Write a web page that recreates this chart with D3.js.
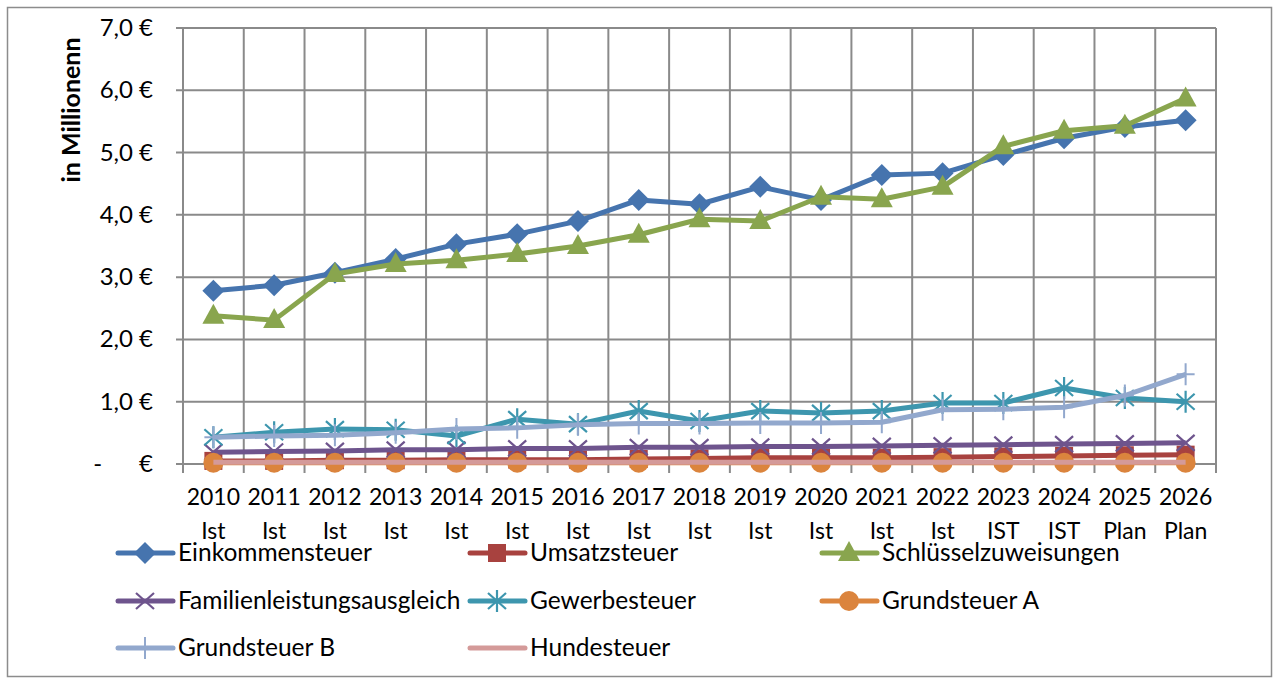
<!DOCTYPE html>
<html lang="de">
<head>
<meta charset="UTF-8">
<title>Steuereinnahmen</title>
<script src="https://d3js.org/d3.v7.min.js"></script>
<style>
    body { margin: 0; background: #fff; }
    text { font-family: Lato, "Open Sans", sans-serif; fill: #000; }
</style>
</head>
<body>
<script>
    // categories (two-line labels)
    const years = ["2010", "2011", "2012", "2013", "2014", "2015", "2016", "2017", "2018",
        "2019", "2020", "2021", "2022", "2023", "2024", "2025", "2026"]
    const status = ["Ist", "Ist", "Ist", "Ist", "Ist", "Ist", "Ist", "Ist", "Ist",
        "Ist", "Ist", "Ist", "Ist", "IST", "IST", "Plan", "Plan"]

    // values in Mio. €
    const einkommensteuer = [2.78, 2.87, 3.07, 3.29, 3.53, 3.69, 3.90, 4.24, 4.17, 4.45, 4.24, 4.64, 4.67, 4.96, 5.23, 5.41, 5.52]
    const umsatzsteuer = [0.05, 0.05, 0.06, 0.06, 0.07, 0.07, 0.07, 0.08, 0.09, 0.10, 0.10, 0.10, 0.11, 0.12, 0.13, 0.14, 0.15]
    const schluesselzuweisungen = [2.38, 2.31, 3.05, 3.21, 3.27, 3.37, 3.50, 3.68, 3.93, 3.90, 4.29, 4.25, 4.45, 5.10, 5.35, 5.43, 5.87]
    const familienleistungsausgleich = [0.19, 0.20, 0.21, 0.23, 0.23, 0.25, 0.25, 0.27, 0.27, 0.28, 0.28, 0.29, 0.30, 0.31, 0.32, 0.33, 0.34]
    const gewerbesteuer = [0.43, 0.51, 0.56, 0.55, 0.45, 0.72, 0.64, 0.85, 0.69, 0.85, 0.82, 0.85, 0.98, 0.98, 1.22, 1.06, 1.00]
    const grundsteuerA = [0.02, 0.02, 0.02, 0.02, 0.02, 0.02, 0.02, 0.02, 0.02, 0.02, 0.02, 0.02, 0.02, 0.02, 0.02, 0.02, 0.02]
    const grundsteuerB = [0.43, 0.45, 0.46, 0.50, 0.56, 0.58, 0.63, 0.65, 0.65, 0.66, 0.66, 0.67, 0.87, 0.88, 0.91, 1.10, 1.44]
    const hundesteuer = [0.03, 0.03, 0.03, 0.03, 0.03, 0.03, 0.03, 0.03, 0.03, 0.03, 0.03, 0.03, 0.03, 0.03, 0.03, 0.03, 0.03]

    const yTicks = [0, 1, 2, 3, 4, 5, 6, 7]

    const series = [
        {name: "Einkommensteuer", values: einkommensteuer, color: "#4674ae", marker: "diamond"},
        {name: "Umsatzsteuer", values: umsatzsteuer, color: "#a8423f", marker: "square"},
        {name: "Schlüsselzuweisungen", values: schluesselzuweisungen, color: "#89a54e", marker: "triangle"},
        {name: "Familienleistungsausgleich", values: familienleistungsausgleich, color: "#6e548d", marker: "x"},
        {name: "Gewerbesteuer", values: gewerbesteuer, color: "#3d96ae", marker: "star"},
        {name: "Grundsteuer A", values: grundsteuerA, color: "#db843d", marker: "circle"},
        {name: "Grundsteuer B", values: grundsteuerB, color: "#92a8cd", marker: "plus"},
        {name: "Hundesteuer", values: hundesteuer, color: "#d49a99", marker: "none"}
    ]

    const W = 1276, H = 679
    const plot = {left: 183, right: 1216, top: 28, bottom: 464}

    const svg = d3.select("body").append("svg")
        .attr("width", W)
        .attr("height", H)

    // outer frame
    svg.append("rect")
        .attr("x", 7.5).attr("y", 7.5)
        .attr("width", W - 12).attr("height", H - 10)
        .attr("fill", "none")
        .attr("stroke", "#8c8c8c")
        .attr("stroke-width", 1.5)

    const xScale = d3.scaleBand()
        .domain(years)
        .range([plot.left, plot.right])

    const yScale = d3.scaleLinear()
        .domain([0, 7])
        .range([plot.bottom, plot.top])

    const grid = "#8a8a8a"

    // horizontal grid
    svg.append("g").selectAll("line")
        .data(yTicks)
        .enter().append("line")
        .attr("x1", plot.left - 7).attr("x2", plot.right)
        .attr("y1", d => yScale(d)).attr("y2", d => yScale(d))
        .attr("stroke", grid).attr("stroke-width", 2)

    // vertical grid at category borders
    const borders = years.map(y => xScale(y)).concat([plot.right])
    svg.append("g").selectAll("line")
        .data(borders)
        .enter().append("line")
        .attr("x1", d => d).attr("x2", d => d)
        .attr("y1", plot.top).attr("y2", plot.bottom + 9)
        .attr("stroke", grid).attr("stroke-width", 2)

    // y axis labels
    const fmt = v => v === 0 ? "-      €" : d3.format(".1f")(v).replace(".", ",") + " €"
    svg.append("g").selectAll("text")
        .data(yTicks)
        .enter().append("text")
        .attr("x", 153)
        .attr("y", d => yScale(d) + 8)
        .attr("text-anchor", "end")
        .style("font-size", "24px")
        .style("white-space", "pre")
        .text(fmt)

    svg.append("text")
        .attr("transform", "translate(80, 110) rotate(-90)")
        .attr("text-anchor", "middle")
        .style("font-size", "25px")
        .style("font-weight", "bold")
        .text("in Millionenn")

    // x axis labels
    const xl = svg.append("g")
    years.forEach((y, i) => {
        const cx = xScale(y) + xScale.bandwidth() / 2
        xl.append("text").attr("x", cx).attr("y", 505)
            .attr("text-anchor", "middle").style("font-size", "23px").text(y)
        xl.append("text").attr("x", cx).attr("y", 539)
            .attr("text-anchor", "middle").style("font-size", "23px").text(status[i])
    })

    function drawMarker(g, type, color, x, y) {
        if (type === "diamond") {
            g.append("path").attr("d", `M${x},${y - 11}L${x + 11},${y}L${x},${y + 11}L${x - 11},${y}Z`).attr("fill", color)
        } else if (type === "square") {
            g.append("rect").attr("x", x - 9).attr("y", y - 9).attr("width", 18).attr("height", 18).attr("fill", color)
        } else if (type === "triangle") {
            g.append("path").attr("d", `M${x},${y - 12}L${x + 11},${y + 8}L${x - 11},${y + 8}Z`).attr("fill", color)
        } else if (type === "circle") {
            g.append("circle").attr("cx", x).attr("cy", y).attr("r", 10).attr("fill", color)
        } else if (type === "x") {
            g.append("path").attr("d", `M${x - 9},${y - 8}L${x + 9},${y + 8}M${x - 9},${y + 8}L${x + 9},${y - 8}`)
                .attr("stroke", color).attr("stroke-width", 2.2)
        } else if (type === "star") {
            g.append("path").attr("d", `M${x - 9},${y - 8}L${x + 9},${y + 8}M${x - 9},${y + 8}L${x + 9},${y - 8}M${x},${y - 11}L${x},${y + 11}`)
                .attr("stroke", color).attr("stroke-width", 2.2)
        } else if (type === "plus") {
            g.append("path").attr("d", `M${x},${y - 11}L${x},${y + 11}M${x - 9},${y}L${x + 9},${y}`)
                .attr("stroke", color).attr("stroke-width", 2)
        }
    }

    const line = d3.line()
        .x((d, i) => xScale(years[i]) + xScale.bandwidth() / 2)
        .y(d => yScale(d))

    series.forEach(s => {
        const g = svg.append("g")
        g.append("path")
            .attr("d", line(s.values))
            .attr("fill", "none")
            .attr("stroke", s.color)
            .attr("stroke-width", 5)
            .attr("stroke-linejoin", "round")
        s.values.forEach((v, i) => drawMarker(g, s.marker, s.color, xScale(years[i]) + xScale.bandwidth() / 2, yScale(v)))
    })

    // legend
    const legendCols = [118, 470, 822]
    const legendRows = [553, 601, 648]
    series.forEach((s, i) => {
        const x = legendCols[i % 3], y = legendRows[Math.floor(i / 3)]
        const g = svg.append("g")
        g.append("line").attr("x1", x).attr("x2", x + 55).attr("y1", y).attr("y2", y)
            .attr("stroke", s.color).attr("stroke-width", 5).attr("stroke-linecap", "round")
        drawMarker(g, s.marker, s.color, x + 27, y)
        g.append("text").attr("x", x + 60).attr("y", y + 8)
            .style("font-size", "24.5px").text(s.name)
    })
</script>
</body>
</html>
